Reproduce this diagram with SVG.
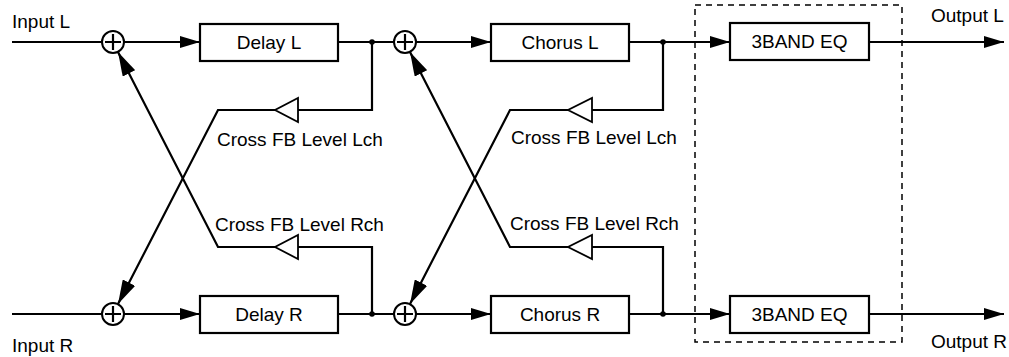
<svg xmlns="http://www.w3.org/2000/svg" width="1009" height="357" viewBox="0 0 1009 357">
<style>
text{font-family:"Liberation Sans",Arial,sans-serif;font-size:19px;fill:#000}
.c{text-anchor:middle}
.ln{fill:none;stroke:#000;stroke-width:2.2}
.bx{fill:#fff;stroke:#000;stroke-width:2.2}
.sum{fill:#fff;stroke:#000;stroke-width:2}
.amp{fill:#fff;stroke:#000;stroke-width:1.8}
.dot{fill:#000}
</style>
<defs>
<marker id="ah" markerUnits="userSpaceOnUse" markerWidth="20" markerHeight="12" refX="20" refY="6" orient="auto"><path d="M0,0 L20,6 L0,12 z" fill="#000"/></marker>
<marker id="ahd" markerUnits="userSpaceOnUse" markerWidth="24" markerHeight="14" refX="24" refY="7" orient="auto"><path d="M0,0 L24,7 L0,14 z" fill="#000"/></marker>
</defs>
<g id="connectors">
<path class="ln" d="M12,42 H102"/>
<path class="ln" d="M12,314 H102"/>
<path class="ln" d="M124,42 H200" marker-end="url(#ah)"/>
<path class="ln" d="M124,314 H200" marker-end="url(#ah)"/>
<path class="ln" d="M338,42 H394"/>
<path class="ln" d="M338,314 H394"/>
<path class="ln" d="M416,42 H491" marker-end="url(#ah)"/>
<path class="ln" d="M416,314 H491" marker-end="url(#ah)"/>
<path class="ln" d="M629,42 H730" marker-end="url(#ah)"/>
<path class="ln" d="M629,314 H730" marker-end="url(#ah)"/>
<path class="ln" d="M869,42 H1004" marker-end="url(#ah)"/>
<path class="ln" d="M869,314 H1004" marker-end="url(#ah)"/>
<path class="ln" d="M372,42 V110 H298"/>
<path class="ln" d="M275,110 H218 L118,304" marker-end="url(#ahd)"/>
<path class="ln" d="M372,314 V247 H298"/>
<path class="ln" d="M275,247 H218 L118,52" marker-end="url(#ahd)"/>
<path class="ln" d="M663,42 V110 H592"/>
<path class="ln" d="M568,110 H510 L410,304" marker-end="url(#ahd)"/>
<path class="ln" d="M663,314 V247 H592"/>
<path class="ln" d="M568,247 H510 L410,52" marker-end="url(#ahd)"/>
<circle class="dot" cx="372" cy="42" r="2.8"/>
<circle class="dot" cx="372" cy="314" r="2.8"/>
<circle class="dot" cx="663" cy="42" r="2.8"/>
<circle class="dot" cx="663" cy="314" r="2.8"/>
</g>
<g id="eq-frame"><rect x="695" y="5" width="207" height="337" fill="none" stroke="#000" stroke-width="1.5" stroke-dasharray="6 5"/></g>
<g id="sum1L"><circle class="sum" cx="113" cy="42" r="11"/><path class="ln" d="M105,42 H121 M113,34 V50"/></g>
<g id="sum1R"><circle class="sum" cx="113" cy="314" r="11"/><path class="ln" d="M105,314 H121 M113,306 V322"/></g>
<g id="sum2L"><circle class="sum" cx="405" cy="42" r="11"/><path class="ln" d="M397,42 H413 M405,34 V50"/></g>
<g id="sum2R"><circle class="sum" cx="405" cy="314" r="11"/><path class="ln" d="M397,314 H413 M405,306 V322"/></g>
<g id="delayL"><rect class="bx" x="200" y="24" width="138" height="37"/><text class="c" x="269" y="49">Delay L</text></g>
<g id="delayR"><rect class="bx" x="200" y="296" width="138" height="37"/><text class="c" x="269" y="321">Delay R</text></g>
<g id="chorusL"><rect class="bx" x="491" y="24" width="138" height="37"/><text class="c" x="560" y="49">Chorus L</text></g>
<g id="chorusR"><rect class="bx" x="491" y="296" width="138" height="37"/><text class="c" x="560" y="321">Chorus R</text></g>
<g id="eqL"><rect class="bx" x="730" y="23" width="139" height="37"/><text class="c" x="799.5" y="48">3BAND EQ</text></g>
<g id="eqR"><rect class="bx" x="730" y="296" width="139" height="37"/><text class="c" x="799.5" y="321">3BAND EQ</text></g>
<g id="fb1L"><polygon class="amp" points="298,98 298,122 275,110"/><text x="217" y="146">Cross FB Level Lch</text></g>
<g id="fb1R"><polygon class="amp" points="298,235 298,259 275,247"/><text x="215" y="231">Cross FB Level Rch</text></g>
<g id="fb2L"><polygon class="amp" points="592,98 592,122 568,110"/><text x="511" y="144">Cross FB Level Lch</text></g>
<g id="fb2R"><polygon class="amp" points="592,235 592,259 568,247"/><text x="510" y="230">Cross FB Level Rch</text></g>
<g id="labels">
<text x="12" y="28">Input L</text>
<text x="12" y="352">Input R</text>
<text x="931" y="22">Output L</text>
<text x="931" y="348">Output R</text>
</g>
</svg>
